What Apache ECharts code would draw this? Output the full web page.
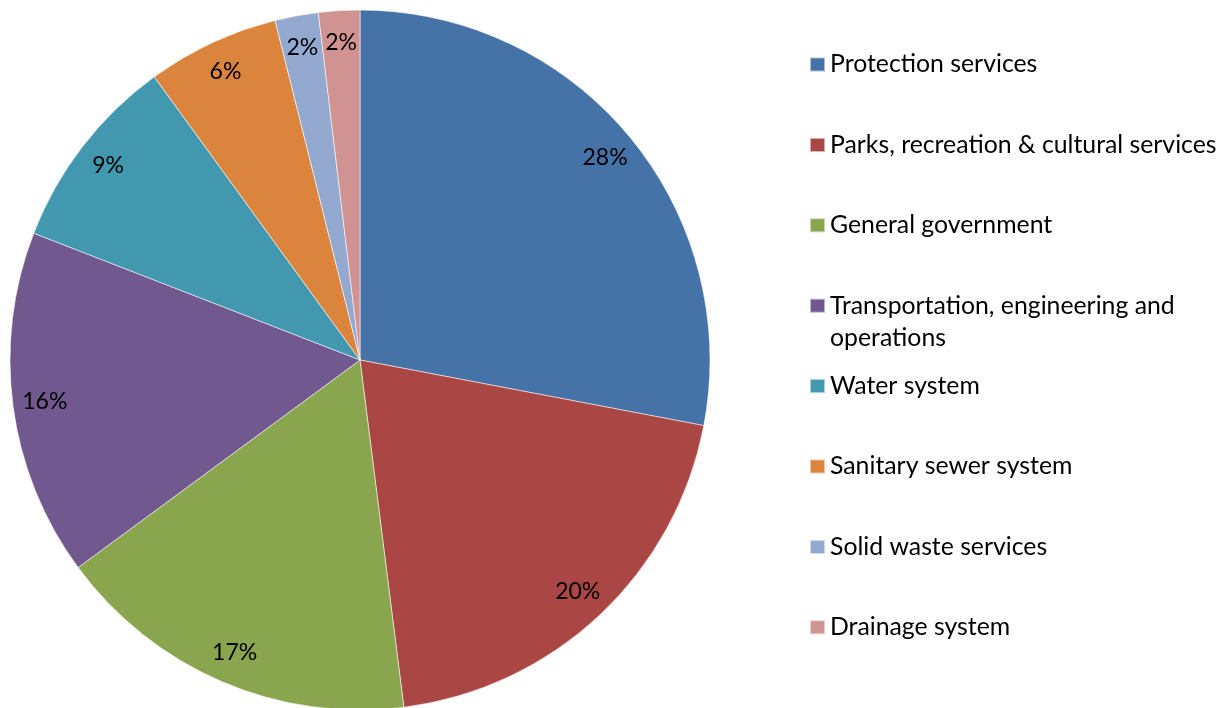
<!DOCTYPE html>
<html>
<head>
<meta charset="utf-8">
<script src="https://cdn.jsdelivr.net/npm/echarts@6/dist/echarts.min.js"></script>
<style>html,body{margin:0;padding:0;background:#fff}#c{width:1221px;height:708px}</style>
</head>
<body>
<div id="c"></div>
<script>
const categories = [
  'Protection services',
  'Parks, recreation & cultural services',
  'General government',
  'Transportation, engineering and operations',
  'Water system',
  'Sanitary sewer system',
  'Solid waste services',
  'Drainage system'
];
const values = [28.0, 20.0, 16.9, 16.0, 9.1, 6.1, 2.0, 1.9];
const colors = ['#4572A7', '#AA4643', '#89A54E', '#71588F', '#4198AF', '#DB843D', '#93A9CF', '#D19392'];
const legendLabels = {
  'Transportation, engineering and operations': 'Transportation, engineering and\noperations'
};

const FONT = 'Lato';
const chart = echarts.init(document.getElementById('c'));
const mainData = categories.map((n, i) => ({ name: n, value: values[i], itemStyle: { color: colors[i] } }));
const labelData = categories.map((n, i) => ({ name: n, value: values[i] }));

chart.setOption({
  animation: false,
  legend: {
    orient: 'vertical',
    left: 809,
    top: 16.5,
    padding: 0,
    itemGap: -15.6,
    itemWidth: 15,
    itemHeight: 14,
    icon: 'rect',
    data: categories,
    formatter: function (name) {
      const t = legendLabels[name] || name;
      return t.indexOf('\n') >= 0 ? ' \n' + t : ' \n' + t + '\n ';
    },
    textStyle: { fontFamily: FONT, fontSize: 24.8, color: '#000', lineHeight: 32 }
  },
  series: [
    {
      type: 'pie',
      center: [360, 360],
      radius: 350,
      startAngle: 90,
      clockwise: true,
      avoidLabelOverlap: false,
      label: { show: false },
      labelLine: { show: false },
      itemStyle: { borderColor: 'rgba(255,255,255,0.55)', borderWidth: 1 },
      emphasis: { disabled: true },
      data: mainData
    },
    {
      type: 'pie',
      center: [360, 360],
      radius: [280, 350],
      startAngle: 90,
      clockwise: true,
      silent: true,
      avoidLabelOverlap: false,
      itemStyle: { color: 'rgba(0,0,0,0)', borderWidth: 0 },
      emphasis: { disabled: true },
      label: {
        show: true,
        position: 'inside',
        formatter: function (p) { return Math.round(p.percent) + '%'; },
        fontFamily: FONT,
        fontSize: 23,
        color: '#000'
      },
      labelLine: { show: false },
      data: labelData
    }
  ]
});
</script>
</body>
</html>
